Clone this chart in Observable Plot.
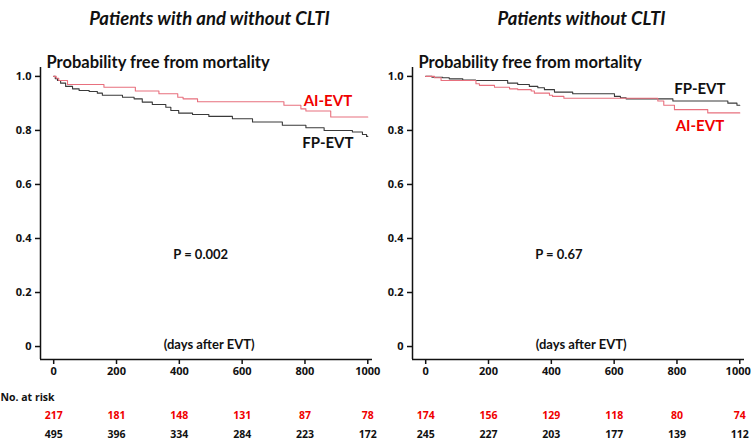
<!DOCTYPE html>
<html>
<head>
<meta charset="utf-8">
<script src="https://cdn.jsdelivr.net/npm/d3@7"></script>
<script src="https://cdn.jsdelivr.net/npm/@observablehq/plot@0.6"></script>
<style>
  html, body { margin: 0; padding: 0; background: #fff; }
  #wrap { display: flex; flex-direction: row; width: 751px; height: 445px; overflow: hidden; }
  #wrap svg { overflow: visible; flex: none; }
</style>
</head>
<body>
<div id="wrap"></div>
<script>
// ---------- data ----------
const panelTitles = ["Patients with and without CLTI", "Patients without CLTI"];
const yTitle = "Probability free from mortality";
const xTitle = "(days after EVT)";
const pValues = ["P = 0.002", "P = 0.67"];
const groups = ["AI-EVT", "FP-EVT"];
const xTicks = [0, 200, 400, 600, 800, 1000];
const yTicks = [0, 0.2, 0.4, 0.6, 0.8, 1.0];

// Kaplan-Meier step points [day, survival]
const leftAI = [[0,1],[8,0.993],[16,0.985],[44,0.970],[160,0.960],[260,0.946],[335,0.936],[395,0.923],[412,0.917],[458,0.906],[733,0.893],[787,0.880],[803,0.872],[882,0.850],[1000,0.850]];
const leftFP = [[0,1],[5,0.992],[12,0.985],[22,0.975],[38,0.963],[60,0.954],[81,0.948],[113,0.944],[139,0.938],[155,0.930],[219,0.923],[256,0.917],[282,0.905],[314,0.896],[357,0.886],[373,0.874],[398,0.864],[442,0.859],[494,0.852],[569,0.843],[633,0.831],[728,0.819],[803,0.810],[861,0.800],[951,0.794],[983,0.785],[996,0.778],[1000,0.778]];
const rightAI = [[0,1],[28,0.995],[49,0.985],[160,0.973],[171,0.967],[219,0.960],[267,0.954],[293,0.951],[336,0.946],[346,0.938],[394,0.930],[404,0.926],[440,0.919],[739,0.909],[758,0.893],[792,0.877],[898,0.865],[1000,0.865]];
const rightFP = [[0,1],[20,0.997],[54,0.995],[75,0.991],[118,0.987],[159,0.985],[261,0.975],[293,0.970],[330,0.963],[357,0.958],[378,0.951],[410,0.942],[468,0.936],[601,0.926],[620,0.921],[638,0.917],[787,0.909],[962,0.901],[991,0.893],[1000,0.893]];

// numbers at risk
const leftRiskAI = [217, 181, 148, 131, 87, 78];
const leftRiskFP = [495, 396, 334, 284, 223, 172];
const rightRiskAI = [174, 156, 129, 118, 80, 74];
const rightRiskFP = [245, 227, 203, 177, 139, 112];

// label anchors in data units [day, survival]
const leftLabels = [{g: "AI-EVT", x: 873, y: 0.907}, {g: "FP-EVT", x: 873, y: 0.752}];
const rightLabels = [{g: "FP-EVT", x: 873, y: 0.952}, {g: "AI-EVT", x: 873, y: 0.815}];
const pPos = [{x: 468, y: 0.34}, {x: 424, y: 0.34}];
const xTitlePos = 495;

// ---------- styles ----------
const RED_LINE = "#e8707e";
const BLACK_LINE = "#3a3a3a";
const RED_TEXT = "#f00000";
const INK = "#111";
const FONT = "Lato, 'Open Sans', sans-serif";
const SMALL = "'Open Sans', Lato, sans-serif";

function toRows(arr) { return arr.map(([x, y]) => ({x, y})); }

function panel(i, ai, fp, riskAI, riskFP, labels, width, marginLeft, showRiskLabel) {
  const xDomain = [-42, 1015];
  const yDomain = [-0.048, 1.033];
  const riskRowsAI = xTicks.map((t, k) => ({x: t, n: riskAI[k]}));
  const riskRowsFP = xTicks.map((t, k) => ({x: t, n: riskFP[k]}));
  const small = {fontFamily: SMALL, fontSize: 10.5, fontWeight: "bold"};
  const innerTicks = xTicks.slice(0, -1);
  const lastTick = xTicks.slice(-1);
  const lastOpts = i === 1
    ? {textAnchor: "end", dx: 11}
    : {};
  const marks = [
    Plot.ruleX([xDomain[0]], {stroke: INK, strokeWidth: 1.5}),
    Plot.ruleY([yDomain[0]], {stroke: INK, strokeWidth: 1.5}),
    Plot.axisX({ticks: xTicks, tickSize: 5, tickFormat: () => "", stroke: INK, strokeWidth: 1.5}),
    Plot.text(innerTicks, {x: d => d, frameAnchor: "bottom", dy: 15, text: d => String(d), fill: INK, ...small, fontSize: 11}),
    Plot.text(lastTick, {x: d => d, frameAnchor: "bottom", dy: 15, text: d => String(d), fill: INK, ...small, fontSize: 11, ...lastOpts}),
    Plot.axisY({ticks: yTicks, tickSize: 5, tickPadding: 4, ...small, fontSize: 11, tickFormat: d => d === 0 ? "0" : d.toFixed(1), stroke: INK, strokeWidth: 1.5}),
    Plot.line(toRows(fp), {x: "x", y: "y", curve: "step-after", stroke: BLACK_LINE, strokeWidth: 1.1}),
    Plot.line(toRows(ai), {x: "x", y: "y", curve: "step-after", stroke: RED_LINE, strokeWidth: 1.1}),
    Plot.text(labels, {x: "x", y: "y", text: "g", fill: d => d.g === "AI-EVT" ? RED_TEXT : INK, fontSize: 15, fontWeight: "bold"}),
    Plot.text([pValues[i]], {x: pPos[i].x, y: pPos[i].y, text: d => d, fill: INK, fontSize: 13, fontWeight: "bold"}),
    Plot.text([xTitle], {x: xTitlePos, frameAnchor: "bottom", dy: -11, text: d => d, fill: INK, fontSize: 13, fontWeight: "bold"}),
    Plot.text([panelTitles[i]], {frameAnchor: "top", dx: 3, dy: -56, text: d => d, fill: INK, fontSize: 18.5, fontWeight: "bold", fontStyle: "italic"}),
    Plot.text([yTitle], {frameAnchor: "top-left", dx: 6, dy: -11, textAnchor: "start", text: d => d, fill: INK, fontSize: 16.5, fontWeight: "bold"}),
    Plot.text(riskRowsAI, {x: "x", frameAnchor: "bottom", dy: 59, text: d => String(d.n), fill: RED_TEXT, ...small}),
    Plot.text(riskRowsFP, {x: "x", frameAnchor: "bottom", dy: 78, text: d => String(d.n), fill: INK, ...small})
  ];
  if (showRiskLabel) {
    marks.push(Plot.text(["No. at risk"], {frameAnchor: "bottom-left", dx: -marginLeft, dy: 41, textAnchor: "start", text: d => d, fill: INK, ...small}));
  }
  return Plot.plot({
    width,
    height: 445,
    marginLeft,
    marginRight: width - marginLeft - 332,
    marginTop: 67,
    marginBottom: 86,
    x: {domain: xDomain, label: null},
    y: {domain: yDomain, label: null},
    style: {fontFamily: FONT, color: INK, background: "transparent", overflow: "visible"},
    marks
  });
}

const wrap = document.getElementById("wrap");
wrap.append(panel(0, leftAI, leftFP, leftRiskAI, leftRiskFP, leftLabels, 373, 40, true));
wrap.append(panel(1, rightAI, rightFP, rightRiskAI, rightRiskFP, rightLabels, 377, 39, false));
</script>
</body>
</html>
